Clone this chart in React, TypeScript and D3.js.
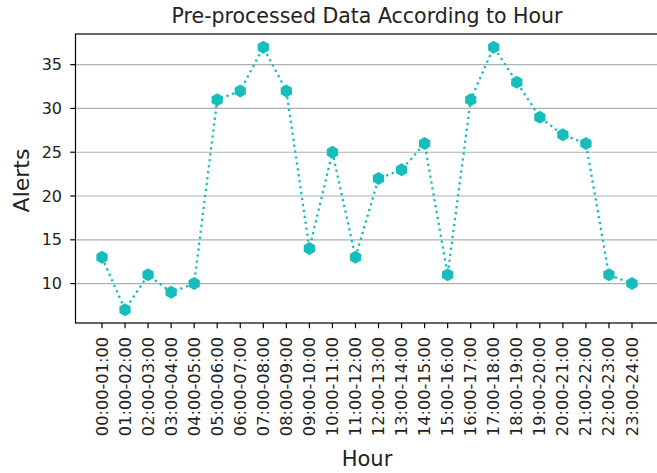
import React, { useEffect, useRef } from 'react';
import * as d3 from 'd3';

// hourly buckets and alert counts
const hours = [
  '00:00-01:00', '01:00-02:00', '02:00-03:00', '03:00-04:00', '04:00-05:00', '05:00-06:00',
  '06:00-07:00', '07:00-08:00', '08:00-09:00', '09:00-10:00', '10:00-11:00', '11:00-12:00',
  '12:00-13:00', '13:00-14:00', '14:00-15:00', '15:00-16:00', '16:00-17:00', '17:00-18:00',
  '18:00-19:00', '19:00-20:00', '20:00-21:00', '21:00-22:00', '22:00-23:00', '23:00-24:00',
];
const alerts = [13, 7, 11, 9, 10, 31, 32, 37, 32, 14, 25, 13, 22, 23, 26, 11, 31, 37, 33, 29, 27, 26, 11, 10];
const yTicks = [10, 15, 20, 25, 30, 35];

const W = 657;
const H = 473;
const FONT = 'DejaVu Sans, sans-serif';
const COLOR = '#17bdbd';

const draw = (el: SVGSVGElement) => {
  const svg = d3.select(el);
  svg.selectAll('*').remove();

  const left = 75.5, right = 658.5, top = 34, bottom = 323;

  // matplotlib-like 5% margins
  const n = hours.length;
  const x = d3.scaleLinear().domain([-0.05 * (n - 1), (n - 1) * 1.05]).range([left, right]);
  const yMin = d3.min(alerts)!, yMax = d3.max(alerts)!;
  const pad = (yMax - yMin) * 0.05;
  const y = d3.scaleLinear().domain([yMin - pad, yMax + pad]).range([bottom, top]);

  // grid
  svg.append('g').selectAll('line').data(yTicks).join('line')
    .attr('x1', left).attr('x2', right)
    .attr('y1', d => y(d)).attr('y2', d => y(d))
    .attr('stroke', '#b0b0b0').attr('stroke-width', 1.2);

  // line
  const line = d3.line<number>().x((d, i) => x(i)).y(d => y(d));
  svg.append('path').datum(alerts)
    .attr('d', line)
    .attr('fill', 'none')
    .attr('stroke', COLOR)
    .attr('stroke-width', 2.3)
    .attr('stroke-dasharray', '2.3,3.7');

  // hexagon markers
  const hex = d3.symbol().type({
    draw(ctx: any, size: number) {
      const r = Math.sqrt(size);
      for (let k = 0; k < 6; k++) {
        const a = Math.PI / 2 + k * Math.PI / 3;
        const px = r * Math.cos(a), py = -r * Math.sin(a);
        if (k === 0) ctx.moveTo(px, py); else ctx.lineTo(px, py);
      }
      ctx.closePath();
    },
  }).size(6.5 * 6.5);
  svg.append('g').selectAll('path').data(alerts).join('path')
    .attr('transform', (d, i) => `translate(${x(i)},${y(d)})`)
    .attr('d', hex as any)
    .attr('fill', COLOR);

  // frame
  svg.append('rect')
    .attr('x', left).attr('y', top)
    .attr('width', right - left).attr('height', bottom - top)
    .attr('fill', 'none').attr('stroke', '#000').attr('stroke-width', 1.2);

  // y axis ticks
  const yg = svg.append('g');
  yg.selectAll('line').data(yTicks).join('line')
    .attr('x1', left - 5.25).attr('x2', left)
    .attr('y1', d => y(d)).attr('y2', d => y(d))
    .attr('stroke', '#000').attr('stroke-width', 1.2);
  yg.selectAll('text').data(yTicks).join('text')
    .attr('x', 62).attr('y', d => y(d))
    .attr('text-anchor', 'end').attr('dominant-baseline', 'central')
    .attr('font-family', FONT).attr('font-size', 16).attr('fill', '#222')
    .text(d => d);

  // x axis ticks
  const xg = svg.append('g');
  xg.selectAll('line').data(hours).join('line')
    .attr('x1', (d, i) => x(i)).attr('x2', (d, i) => x(i))
    .attr('y1', bottom).attr('y2', bottom + 5.25)
    .attr('stroke', '#000').attr('stroke-width', 1.2);
  xg.selectAll('text').data(hours).join('text')
    .attr('transform', (d, i) => `translate(${x(i)},${bottom + 14}) rotate(-90)`)
    .attr('text-anchor', 'end').attr('dominant-baseline', 'central')
    .attr('font-family', FONT).attr('font-size', 16.2).attr('fill', '#222')
    .text(d => d);

  // labels
  svg.append('text')
    .attr('x', (left + right) / 2).attr('y', 23)
    .attr('text-anchor', 'middle')
    .attr('font-family', FONT).attr('font-size', 20.5).attr('fill', '#222')
    .text('Pre-processed Data According to Hour');
  svg.append('text')
    .attr('x', (left + right) / 2).attr('y', 466)
    .attr('text-anchor', 'middle')
    .attr('font-family', FONT).attr('font-size', 21).attr('fill', '#222')
    .text('Hour');
  svg.append('text')
    .attr('transform', `translate(29,${(top + bottom) / 2 + 2}) rotate(-90)`)
    .attr('text-anchor', 'middle')
    .attr('font-family', FONT).attr('font-size', 22).attr('fill', '#222')
    .text('Alerts');
};

export default function App() {
  const ref = useRef<SVGSVGElement>(null);
  useEffect(() => {
    if (ref.current) draw(ref.current);
  }, []);
  return (
    <svg ref={ref} width={W} height={H}
      style={{ position: 'absolute', left: 0, top: 0, background: '#fff' }} />
  );
}
